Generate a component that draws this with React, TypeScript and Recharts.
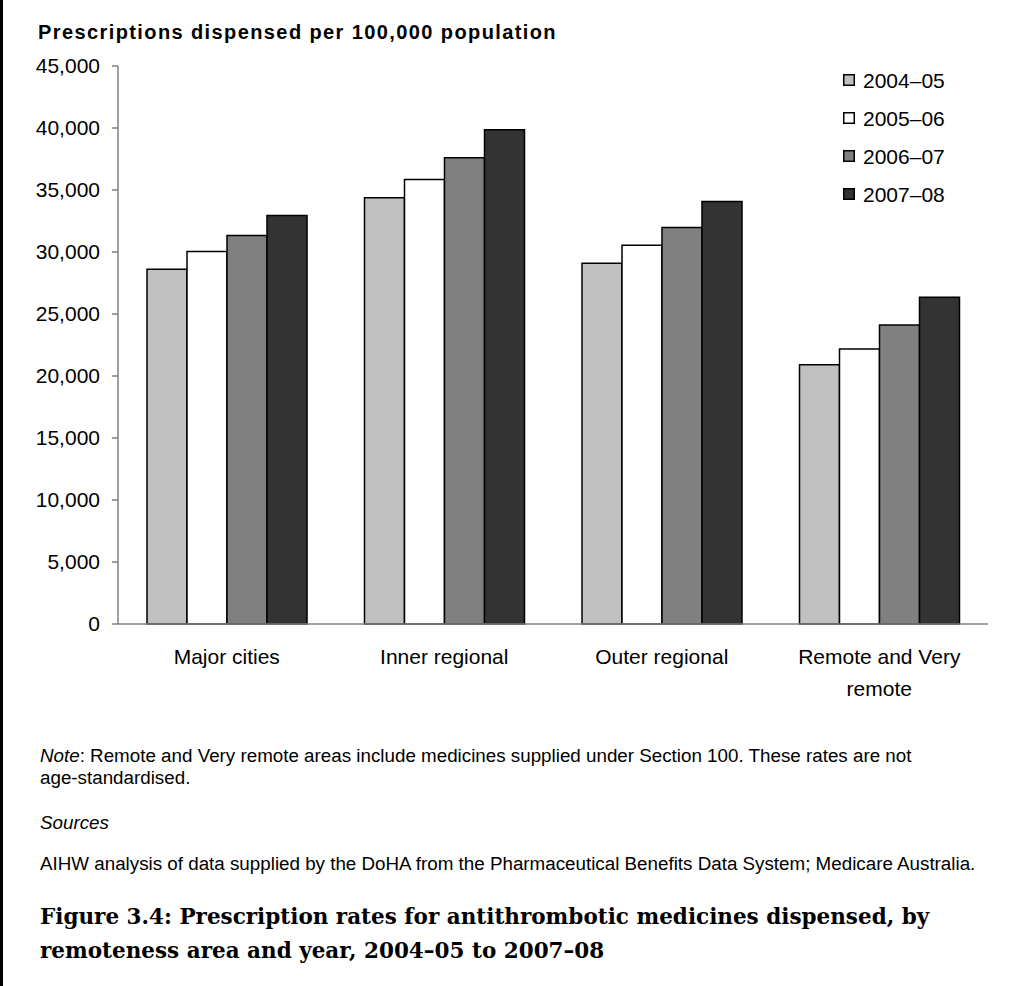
import React from "react";
import { BarChart, Bar, XAxis, YAxis } from "recharts";

const categories = ["Major cities", "Inner regional", "Outer regional", "Remote and Very remote"];
const seriesNames = ["2004–05", "2005–06", "2006–07", "2007–08"];
const values2004 = [28600, 34370, 29090, 20900];
const values2005 = [30050, 35840, 30540, 22180];
const values2006 = [31340, 37610, 31980, 24110];
const values2007 = [32950, 39860, 34070, 26360];
const yTicks = [0, 5000, 10000, 15000, 20000, 25000, 30000, 35000, 40000, 45000];
const colors = ["#C0C0C0", "#FFFFFF", "#808080", "#333333"];

const allSeries = [values2004, values2005, values2006, values2007];
const data = categories.map((c, i) => {
  const row: any = { name: c };
  seriesNames.forEach((s, j) => {
    row[s] = allSeries[j][i];
  });
  return row;
});

const FONT = "'Liberation Sans', Arial, sans-serif";
const SERIF = "'DejaVu Serif', 'Liberation Serif', serif";

const XTick = (props: any) => {
  const { x, y, payload } = props;
  const label: string = payload.value;
  const lines = label === "Remote and Very remote" ? ["Remote and Very", "remote"] : [label];
  return (
    <g transform={`translate(${x},${y})`}>
      <text textAnchor="middle" fontFamily={FONT} fontSize={21} fill="#000">
        {lines.map((l, i) => (
          <tspan key={i} x={0} dy={i === 0 ? 32 : 32}>
            {l}
          </tspan>
        ))}
      </text>
    </g>
  );
};

const legendRows = [80, 118, 156, 194];

export default function App() {
  return (
    <div
      style={{
        position: "absolute",
        left: 0,
        top: 0,
        width: 1023,
        height: 986,
        background: "#fff",
        overflow: "hidden",
      }}
    >
      <div style={{ position: "absolute", left: 0, top: 0, width: 3, height: 986, background: "#000" }} />
      <div style={{ position: "absolute", left: 0, top: 0 }}>
        <BarChart
          width={1023}
          height={720}
          data={data}
          margin={{ top: 66, right: 35, left: 0, bottom: 36 }}
          barGap={0}
        >
          <XAxis
            dataKey="name"
            axisLine={{ stroke: "#808080", strokeWidth: 1.5 }}
            tickLine={false}
            height={60}
            tick={<XTick />}
            interval={0}
          />
          <YAxis
            width={118}
            domain={[0, 45000]}
            ticks={yTicks}
            interval={0}
            axisLine={{ stroke: "#808080", strokeWidth: 1.5 }}
            tickLine={{ stroke: "#808080", strokeWidth: 1.5 }}
            tickSize={6}
            tickMargin={12}
            tick={{ fill: "#000", fontSize: 21, fontFamily: FONT }}
            tickFormatter={(v: number) => v.toLocaleString("en-US")}
          />
          {seriesNames.map((s, i) => (
            <Bar
              key={s}
              dataKey={s}
              fill={colors[i]}
              stroke="#000"
              strokeWidth={1.5}
              barSize={40}
              isAnimationActive={false}
            />
          ))}
        </BarChart>
      </div>
      <svg
        width={1023}
        height={986}
        style={{ position: "absolute", left: 0, top: 0, pointerEvents: "none" }}
      >
        <text x={38} y={39} fontFamily={FONT} fontWeight="bold" fontSize={20} letterSpacing={1.4} fill="#000">
          Prescriptions dispensed per 100,000 population
        </text>
        {seriesNames.map((s, i) => (
          <g key={s}>
            <rect
              x={843.75}
              y={legendRows[i] - 5.25}
              width={10.5}
              height={10.5}
              fill={colors[i]}
              stroke="#000"
              strokeWidth={1.5}
            />
            <text x={863} y={legendRows[i] + 7.5} fontFamily={FONT} fontSize={21} fill="#000">
              {s}
            </text>
          </g>
        ))}
        <text x={40} y={762} fontFamily={FONT} fontSize={18.8} fill="#000">
          <tspan fontStyle="italic">Note</tspan>
          <tspan>: Remote and Very remote areas include medicines supplied under Section 100. These rates are not</tspan>
        </text>
        <text x={40} y={784} fontFamily={FONT} fontSize={18.8} fill="#000">
          age-standardised.
        </text>
        <text x={40} y={829} fontFamily={FONT} fontSize={18.8} fontStyle="italic" fill="#000">
          Sources
        </text>
        <text x={40} y={870} fontFamily={FONT} fontSize={18.8} fill="#000">
          AIHW analysis of data supplied by the DoHA from the Pharmaceutical Benefits Data System; Medicare Australia.
        </text>
        <text x={40} y={924} fontFamily={SERIF} fontWeight="bold" fontSize={21.5} fill="#000">
          Figure 3.4: Prescription rates for antithrombotic medicines dispensed, by
        </text>
        <text x={40} y={958} fontFamily={SERIF} fontWeight="bold" fontSize={21.5} fill="#000">
          remoteness area and year, 2004–05 to 2007–08
        </text>
      </svg>
    </div>
  );
}
